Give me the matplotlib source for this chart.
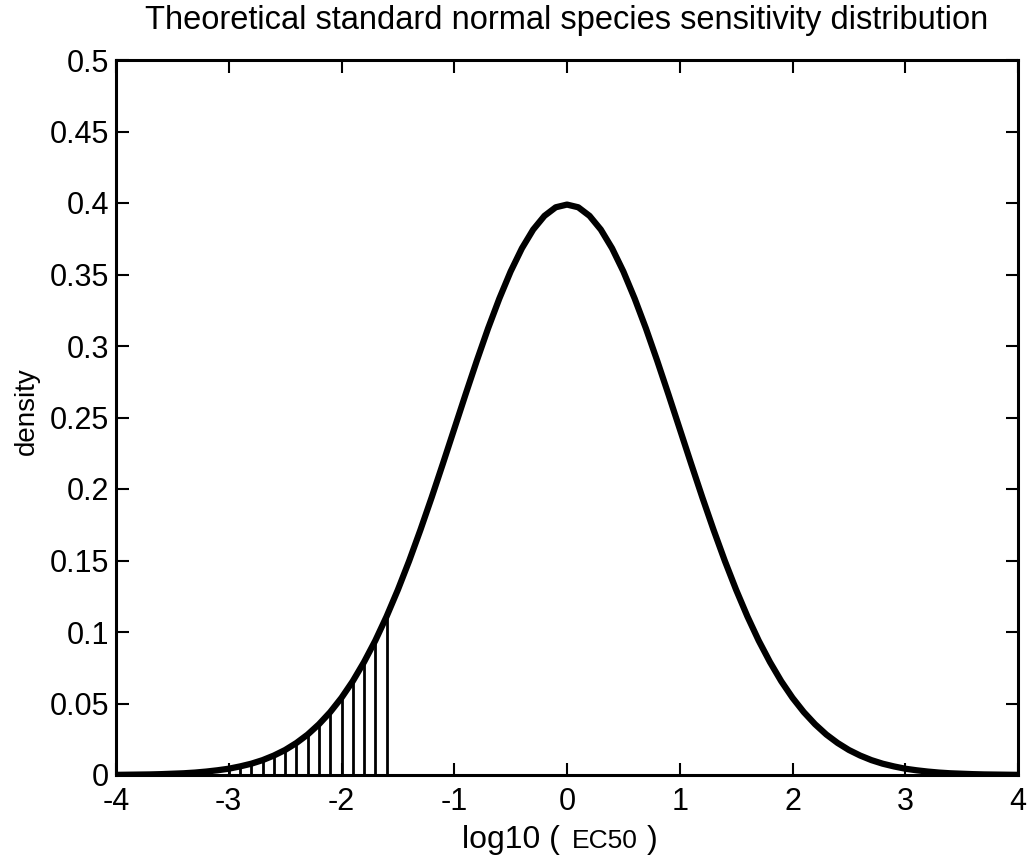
import matplotlib
matplotlib.use("Agg")
import matplotlib.pyplot as plt
import numpy as np

# x grid (log10 EC50) and density values
x_vals = [-4.0, -3.9, -3.8, -3.7, -3.6, -3.5, -3.4, -3.3, -3.2, -3.1,
          -3.0, -2.9, -2.8, -2.7, -2.6, -2.5, -2.4, -2.3, -2.2, -2.1,
          -2.0, -1.9, -1.8, -1.7, -1.6, -1.5, -1.4, -1.3, -1.2, -1.1,
          -1.0, -0.9, -0.8, -0.7, -0.6, -0.5, -0.4, -0.3, -0.2, -0.1,
          0.0, 0.1, 0.2, 0.3, 0.4, 0.5, 0.6, 0.7, 0.8, 0.9,
          1.0, 1.1, 1.2, 1.3, 1.4, 1.5, 1.6, 1.7, 1.8, 1.9,
          2.0, 2.1, 2.2, 2.3, 2.4, 2.5, 2.6, 2.7, 2.8, 2.9,
          3.0, 3.1, 3.2, 3.3, 3.4, 3.5, 3.6, 3.7, 3.8, 3.9, 4.0]
density = [0.0001, 0.0002, 0.0003, 0.0004, 0.0006, 0.0009, 0.0012, 0.0017, 0.0024, 0.0033,
           0.0044, 0.0060, 0.0079, 0.0104, 0.0136, 0.0175, 0.0224, 0.0283, 0.0355, 0.0440,
           0.0540, 0.0656, 0.0790, 0.0940, 0.1109, 0.1295, 0.1497, 0.1714, 0.1942, 0.2179,
           0.2420, 0.2661, 0.2897, 0.3123, 0.3332, 0.3521, 0.3683, 0.3814, 0.3910, 0.3970,
           0.3989, 0.3970, 0.3910, 0.3814, 0.3683, 0.3521, 0.3332, 0.3123, 0.2897, 0.2661,
           0.2420, 0.2179, 0.1942, 0.1714, 0.1497, 0.1295, 0.1109, 0.0940, 0.0790, 0.0656,
           0.0540, 0.0440, 0.0355, 0.0283, 0.0224, 0.0175, 0.0136, 0.0104, 0.0079, 0.0060,
           0.0044, 0.0033, 0.0024, 0.0017, 0.0012, 0.0009, 0.0006, 0.0004, 0.0003, 0.0002, 0.0001]
# hatched tail: from -3.0 up to the cut-off at -1.6
hatch_lo, hatch_hi = -3.0, -1.6

xticks = [-4, -3, -2, -1, 0, 1, 2, 3, 4]
yticks = [0, 0.05, 0.1, 0.15, 0.2, 0.25, 0.3, 0.35, 0.4, 0.45, 0.5]
ytick_labels = ["0", "0.05", "0.1", "0.15", "0.2", "0.25", "0.3", "0.35", "0.4", "0.45", "0.5"]

plt.rcParams['font.family'] = ['Liberation Sans', 'DejaVu Sans']

fig = plt.figure(figsize=(10.29, 8.58), dpi=100)
ax = fig.add_axes([116/1029, 1 - 775/858, (1018 - 116)/1029, (775 - 60)/858])

x = np.array(x_vals)
y = np.array(density)
mask = (x >= hatch_lo - 1e-9) & (x <= hatch_hi + 1e-9)
ax.vlines(x[mask], 0, y[mask], colors='black', linewidth=2.0)
ax.plot(x, y, color='black', linewidth=4.5, solid_capstyle='butt')

ax.set_xlim(-4, 4)
ax.set_ylim(0, 0.5)
ax.set_xticks(xticks)
ax.set_xticklabels([str(t) for t in xticks])
ax.set_yticks(yticks)
ax.set_yticklabels(ytick_labels)
ax.tick_params(direction='in', length=9, width=1.5, labelsize=22, top=True, right=True)
ax.tick_params(axis='x', pad=9)
ax.tick_params(axis='y', pad=5)
for s in ax.spines.values():
    s.set_linewidth(2.2)

fig.text(567/1029, 1 - 21/858, "Theoretical standard normal species sensitivity distribution",
         fontsize=23.5, ha='center', va='center')
fig.text(27/1029, 1 - 411/858, "density", fontsize=20, rotation=90, ha='center', va='center')

fig.text(560/1029, 10/858, "log10 (", fontsize=23, ha='right', va='baseline')
fig.text(572/1029, 10/858, "EC50", fontsize=19, ha='left', va='baseline')
fig.text(647/1029, 10/858, ")", fontsize=23, ha='left', va='baseline')

fig.savefig("out.png", dpi=100)
